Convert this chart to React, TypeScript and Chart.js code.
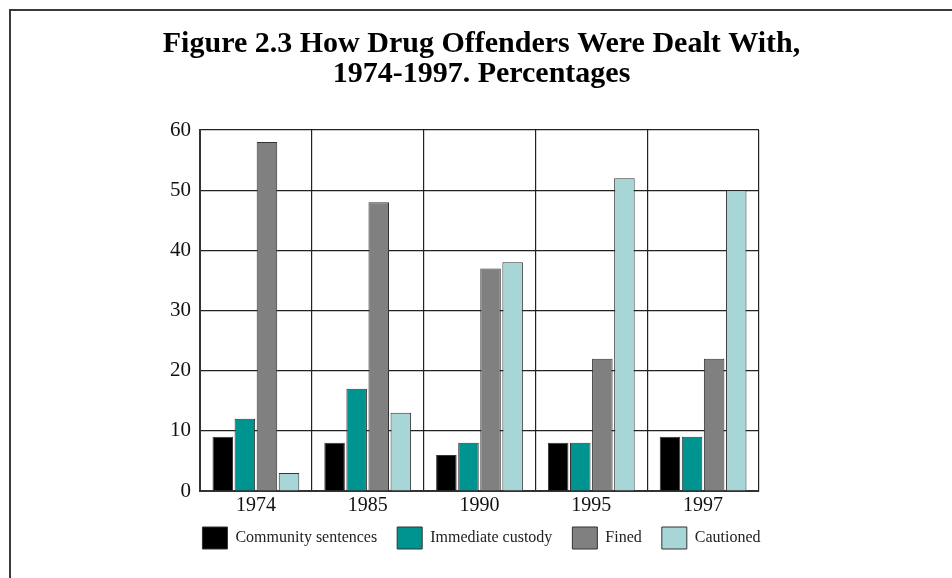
import React, { useEffect, useRef } from "react";
import { Chart, registerables } from "chart.js";

Chart.register(...registerables);

const titleLines = ["Figure 2.3 How Drug Offenders Were Dealt With,", "1974-1997. Percentages"];
const years = ["1974", "1985", "1990", "1995", "1997"];
const seriesNames = ["Community sentences", "Immediate custody", "Fined", "Cautioned"];
const community = [9, 8, 6, 8, 9];
const custody = [12, 17, 8, 8, 9];
const fined = [58, 48, 37, 22, 22];
const cautioned = [3, 13, 38, 52, 50];
const seriesColors = ["#000000", "#009490", "#808080", "#a8d5d5"];
const yMin = 0;
const yMax = 60;
const yStep = 10;

const SERIF = "'Liberation Serif', 'Times New Roman', serif";

// Pull the legend up closer to the axis labels (legend padding is also used horizontally).
const legendShift = {
  id: "legendShift",
  afterLayout(chart: any) {
    const lg = chart.legend;
    if (lg) {
      lg.top -= 11;
      lg.bottom -= 11;
    }
  },
};

export default function App() {
  const ref = useRef<HTMLCanvasElement>(null);

  useEffect(() => {
    const values = [community, custody, fined, cautioned];
    const chart = new Chart(ref.current!, {
      type: "bar",
      data: {
        labels: years,
        datasets: seriesNames.map((name, i) => ({
          label: name,
          data: values[i],
          backgroundColor: seriesColors[i],
          borderColor: "#333333",
          borderWidth: 1,
          barPercentage: 0.93,
          categoryPercentage: 0.79,
          yAxisID: "y",
        })),
      },
      options: {
        animation: false,
        responsive: false,
        maintainAspectRatio: false,
        layout: { padding: { left: 0, right: 0, top: 0, bottom: 8 } },
        plugins: {
          title: {
            display: true,
            text: titleLines,
            color: "#000",
            font: { family: SERIF, size: 30, weight: "bold", lineHeight: 1.0 },
            padding: { top: 18, bottom: 41 },
          },
          legend: {
            position: "bottom",
            labels: {
              boxWidth: 25,
              boxHeight: 22,
              padding: 20,
              color: "#222",
              font: { family: SERIF, size: 16 },
            },
          },
          tooltip: { enabled: false },
        },
        scales: {
          x: {
            grid: { color: "#222", lineWidth: 1.2, drawTicks: false },
            border: { color: "#333", width: 2 },
            ticks: { color: "#111", padding: 3, font: { family: SERIF, size: 20 } },
            afterFit: (s: any) => {
              s.height = 27;
            },
          },
          y: {
            min: yMin,
            max: yMax,
            grid: { color: "#222", lineWidth: 1.2, drawTicks: false },
            border: { color: "#333", width: 2 },
            ticks: { stepSize: yStep, color: "#111", padding: 9, font: { family: SERIF, size: 21 } },
            afterFit: (s: any) => {
              s.width = 189;
            },
          },
          y2: {
            position: "right",
            display: true,
            grid: { display: false },
            border: { display: false },
            ticks: { display: false },
            afterFit: (s: any) => {
              s.width = 193;
            },
          },
        },
      } as any,
      plugins: [legendShift],
    });
    return () => chart.destroy();
  }, []);

  return (
    <div
      style={{
        position: "absolute",
        left: 9,
        top: 9,
        width: 941,
        height: 567,
        borderTop: "2px solid #3a3a3a",
        borderLeft: "2px solid #3a3a3a",
        background: "#fff",
      }}
    >
      <canvas ref={ref} width={941} height={567} style={{ display: "block" }} />
    </div>
  );
}
